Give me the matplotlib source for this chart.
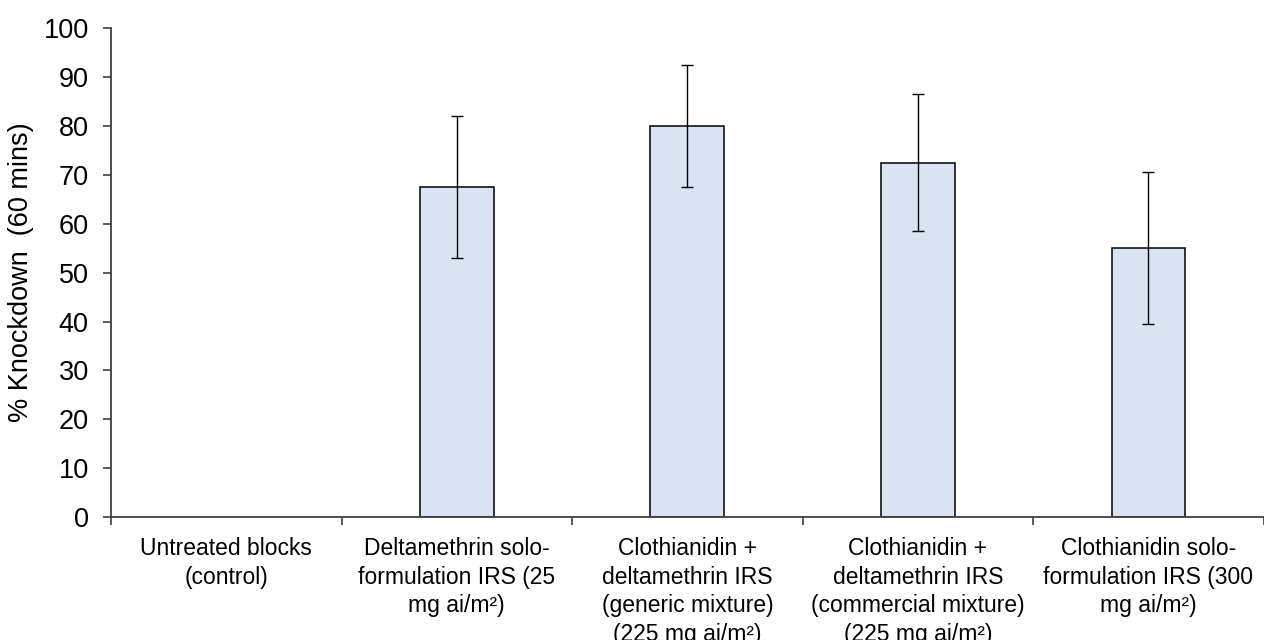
import numpy as np
import matplotlib.pyplot as plt

plt.rcParams['font.family'] = ['Liberation Sans', 'DejaVu Sans']

# Data
labels = ["Untreated blocks\n(control)",
          "Deltamethrin solo-\nformulation IRS (25\nmg ai/m²)",
          "Clothianidin +\ndeltamethrin IRS\n(generic mixture)\n(225 mg ai/m²)",
          "Clothianidin +\ndeltamethrin IRS\n(commercial mixture)\n(225 mg ai/m²)",
          "Clothianidin solo-\nformulation IRS (300\nmg ai/m²)"]
knockdown = [0, 67.5, 80, 72.5, 55]
err = [0, 14.5, 12.5, 14, 15.5]

x = np.arange(len(labels))
vals = np.array(knockdown, dtype=float)
errs = np.array(err, dtype=float)

fig = plt.figure(figsize=(12.64, 6.4), dpi=100)
ax = fig.add_axes([0.0878, 0.192, 0.912, 0.764])

# zero-height bar gets no outline (Excel doesn't show it)
lw = [0 if v == 0 else 1.1 for v in knockdown]
ax.bar(x, vals, width=0.32, color="#DAE3F3", edgecolor="black", linewidth=lw, zorder=2)
m = errs > 0
ax.errorbar(x[m], vals[m], yerr=errs[m], fmt="none", ecolor="black", elinewidth=1.0,
            capsize=4, capthick=1.0, zorder=3)

ax.set_xlim(-0.5, len(labels) - 0.5)
ax.set_ylim(0, 100)
ax.set_yticks(np.arange(0, 101, 10))

# category boundaries get tick marks, centers get labels
ax.set_xticks(np.arange(-0.5, len(labels), 1.0))
ax.set_xticklabels([])
ax.set_xticks(x, minor=True)
ax.set_xticklabels(labels, minor=True, linespacing=1.31)
ax.tick_params(axis="x", which="minor", length=0, pad=14.5, labelsize=16.5)
ax.tick_params(axis="x", which="major", length=6, width=1.2, color="#404040")
ax.tick_params(axis="y", length=6, width=1.2, color="#404040", labelsize=19.5, pad=10)

for s in ["top", "right"]:
    ax.spines[s].set_visible(False)
for s in ["left", "bottom"]:
    ax.spines[s].set_color("#404040")
    ax.spines[s].set_linewidth(1.3)

ax.set_ylabel("% Knockdown  (60 mins)", fontsize=19.5, labelpad=7)

fig.savefig("out.png", dpi=100)
